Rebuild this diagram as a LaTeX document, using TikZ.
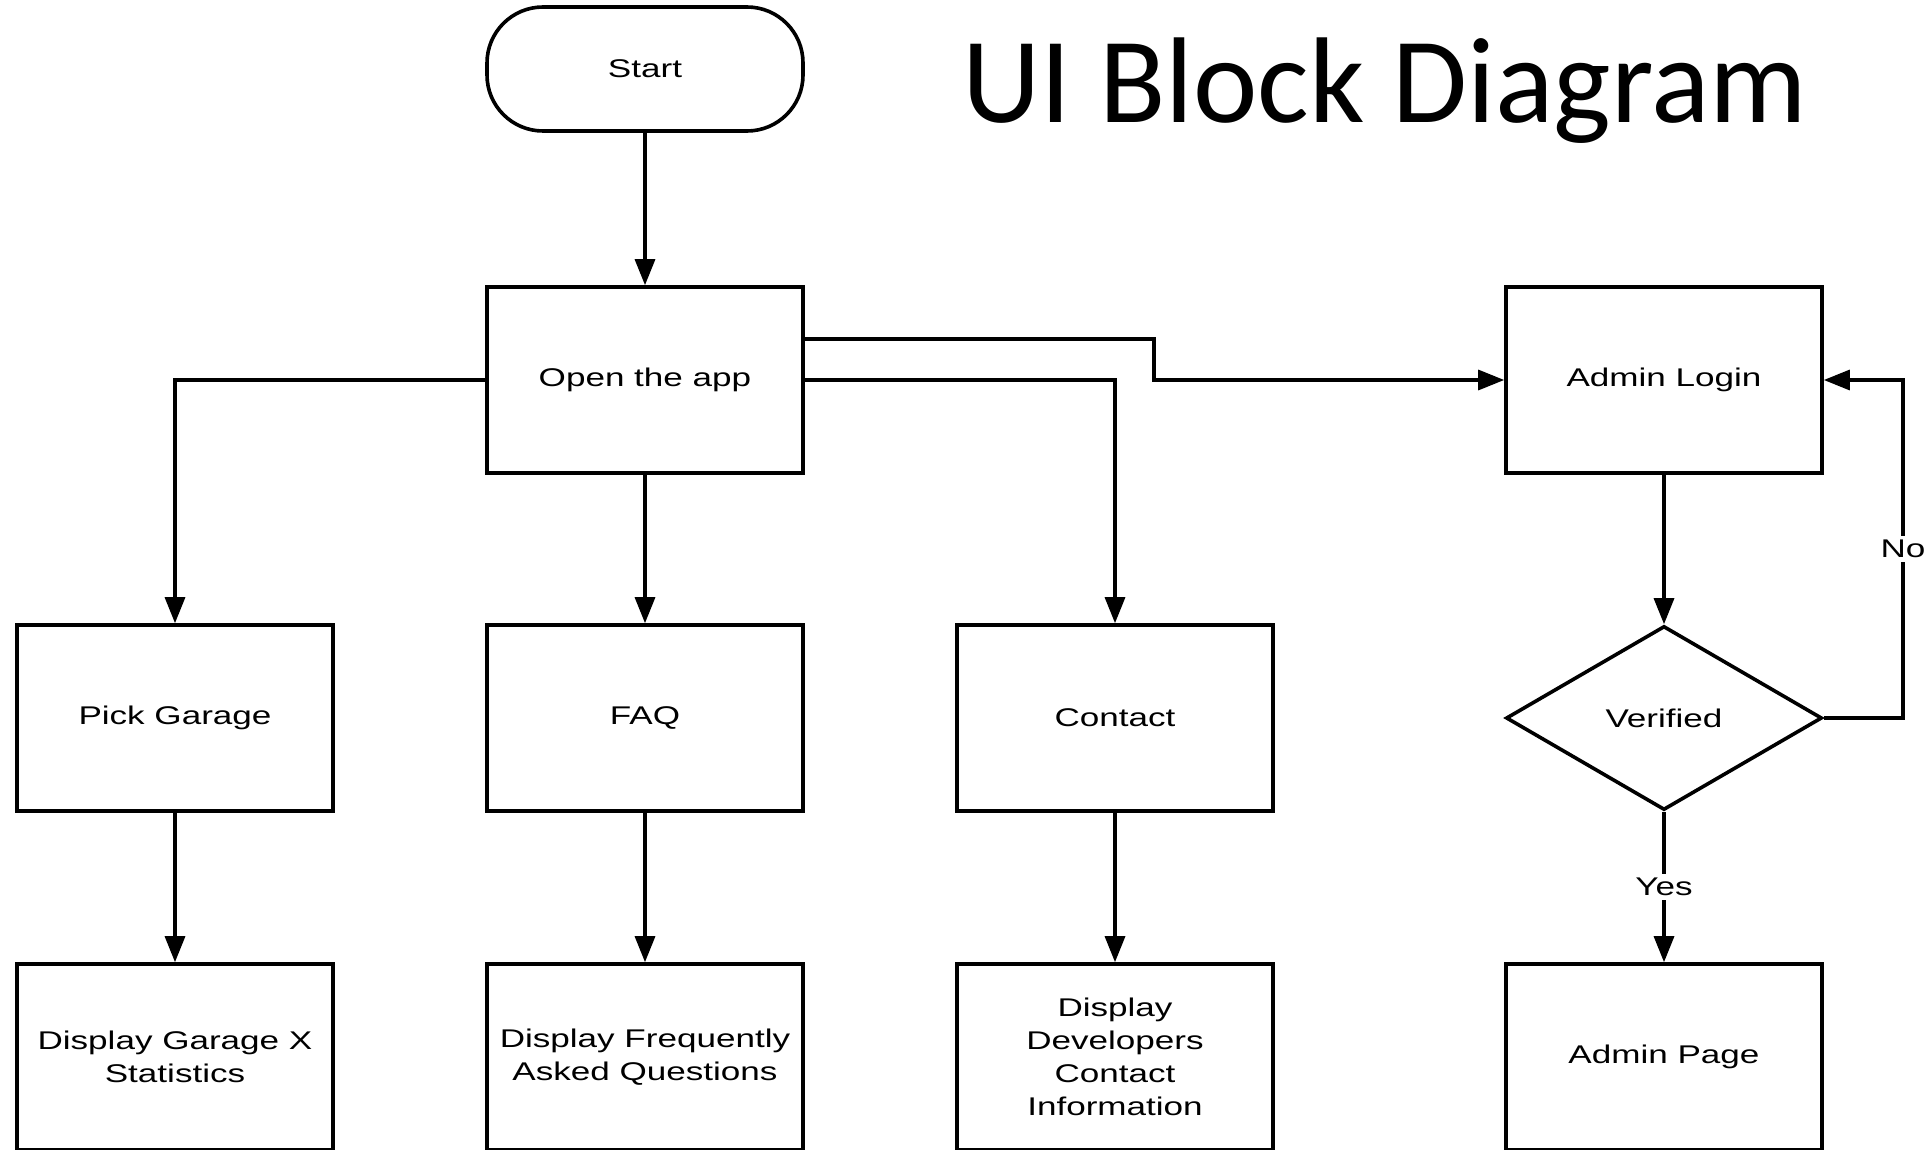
\documentclass[tikz,border=0pt]{standalone}
\usepackage{fontspec}
\setmainfont{Liberation Sans}[FakeStretch=1.37]
\newfontfamily\titlefont{Carlito}
\usetikzlibrary{shapes.geometric,arrows.meta}

\begin{document}
\begin{tikzpicture}[x=0.5pt,y=-0.5pt,
  block/.style={draw, line width=1.8pt, minimum width=158pt, minimum height=93pt,
    align=center, inner sep=2pt, font=\fontsize{12.8}{16.6}\selectfont},
  terminal/.style={block, rounded corners=28pt, minimum height=62pt},
  decision/.style={block, diamond, minimum height=92pt},
  arr/.style={line width=1.6pt, -{Triangle[length=13pt,width=10pt]}},
  lbl/.style={fill=white, inner sep=2pt, font=\fontsize{12.8}{16.6}\selectfont}]
\useasboundingbox (0,0) rectangle (1932,1150);

\node[anchor=base west, inner sep=0pt, font=\titlefont\fontsize{61}{72}\selectfont] (title) at (962,123) {UI Block Diagram};

\node[terminal] (start) at (645,69) {Start};
\node[block] (open) at (645,380) {Open the app};
\node[block] (login) at (1664,380) {Admin Login};

\node[block] (pick) at (175,718) {Pick Garage};
\node[block] (faq) at (645,718) {FAQ};
\node[block] (contact) at (1115,718) {Contact};
\node[decision] (verified) at (1664,718) {Verified};

\node[block] (garagestats) at (175,1057) {Display Garage X\\Statistics};
\node[block] (faqlist) at (645,1057) {Display Frequently\\Asked Questions};
\node[block] (devinfo) at (1115,1057) {Display\\Developers\\Contact\\Information};
\node[block] (adminpage) at (1664,1057) {Admin Page};

\foreach \a/\b in {start/open, open/faq, login/verified, pick/garagestats, faq/faqlist, contact/devinfo}
  \draw[arr] (\a) -- (\b);

\draw[arr] (open.west) -| (pick.north);
\draw[arr] (open.east) -| (contact.north);

\coordinate (jog) at (1154,380);
\draw[arr] ([yshift=20.5pt]open.east) -| (jog) -- (login.west);

\coordinate (noturn) at (1903,718);
\draw[arr] (verified.east) -- (noturn) |- node[lbl, pos=0.25] {No} (login.east);
\draw[arr] (verified) -- node[lbl] {Yes} (adminpage);

\end{tikzpicture}
\end{document}
